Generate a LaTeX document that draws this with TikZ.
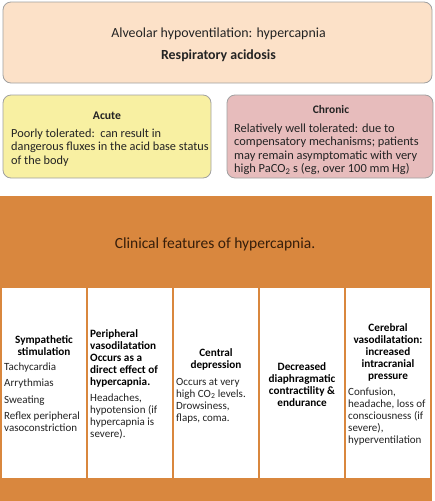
\documentclass[tikz,border=0pt]{standalone}
\usepackage{fontspec}
\setmainfont{Carlito}
\definecolor{peach}{RGB}{252,225,200}
\definecolor{paleyellow}{RGB}{248,240,162}
\definecolor{palepink}{RGB}{231,188,188}
\definecolor{orangefill}{RGB}{217,135,62}
\definecolor{boxline}{RGB}{160,160,160}
\definecolor{darktext}{RGB}{35,35,35}
\definecolor{headtext}{RGB}{55,30,10}
\begin{document}
\begin{tikzpicture}[x=1pt,y=-1pt,
  roundbox/.style={draw=boxline, line width=0.8pt, rounded corners=8pt, inner sep=0pt},
  plainbox/.style={inner sep=0pt, draw=none},
  coltext/.style={inner sep=0pt, text=darktext, font=\fontsize{11}{12}\selectfont},
  coltitle/.style={coltext, text=black, font=\fontsize{11.2}{12}\selectfont\bfseries},
  boxtext/.style={inner sep=0pt, text=darktext, font=\fontsize{12.3}{13.5}\selectfont},
  toptext/.style={inner sep=0pt, text=darktext, font=\fontsize{13.9}{16}\selectfont}
]
\useasboundingbox (0,0) rectangle (435,501);
% top box
\node[roundbox, fill=peach, minimum width=429, minimum height=81] (top) at (217.5,42.5) {};
\node[toptext, anchor=base] (toptitle) at (218.5,37) {Alveolar hypoventilation: hypercapnia};
\node[toptext, anchor=base, font=\fontsize{13.9}{16}\selectfont\bfseries] (topsub) at (218.5,59) {Respiratory acidosis};
% acute / chronic
\node[roundbox, fill=paleyellow, minimum width=208, minimum height=83] (acute) at (107,136.5) {};
\node[boxtext, anchor=base, font=\fontsize{11.7}{13.5}\selectfont\bfseries] (acutetitle) at (107,119) {Acute};
\node[boxtext, anchor=north west, align=left] (acutebody) at (11,127.5) {\strut Poorly tolerated:\ \ can result in\\dangerous fluxes in the acid base status\\of the body};
\node[roundbox, fill=palepink, minimum width=206, minimum height=83] (chronic) at (330,136.5) {};
\node[boxtext, anchor=base, font=\fontsize{11.5}{13.5}\selectfont\bfseries] (chronictitle) at (331,113) {Chronic};
\node[boxtext, anchor=north west, align=left, font=\fontsize{12.4}{13.5}\selectfont] (chronicbody) at (234,122.5) {\strut Relatively well tolerated: due to\\compensatory mechanisms; patients\\may remain asymptomatic with very\\high PaCO\textsubscript{2} s (eg, over 100 mm Hg)};
% orange panel
\node[plainbox, fill=orangefill, minimum width=432, minimum height=305] (panel) at (216,348.5) {};
\node[inner sep=0pt, anchor=base, text=headtext, font=\fontsize{15.5}{18}\selectfont] (paneltitle) at (215,248) {Clinical features of hypercapnia.};
% columns
\foreach \n/\cx in {1/44,2/130,3/216,4/302,5/388}{
  \node[plainbox, fill=white, minimum width=84, minimum height=190] (col\n) at (\cx,383) {};
}
\node[coltitle, anchor=north, align=center] (t1) at (44,334.6) {\strut Sympathetic\\stimulation};
\node[coltext, anchor=north west, align=left] (b1) at (4,361.6) {\strut Tachycardia\\[4.5pt]Arrythmias\\[4.5pt]Sweating\\[4.5pt]Reflex peripheral\\vasoconstriction};
\node[coltitle, anchor=north west, align=left] (t2) at (90,328.6) {\strut Peripheral\\vasodilatation\\Occurs as a\\direct effect of\\hypercapnia.};
\node[coltext, anchor=north west, align=left] (b2) at (90,392.6) {\strut Headaches,\\hypotension (if\\hypercapnia is\\severe).};
\node[coltitle, anchor=north, align=center] (t3) at (216,347.6) {\strut Central\\depression};
\node[coltext, anchor=north west, align=left] (b3) at (176,376.6) {\strut Occurs at very\\high CO\textsubscript{2} levels.\\Drowsiness,\\flaps, coma.};
\node[coltitle, anchor=north, align=center] (t4) at (302,361.6) {\strut Decreased\\diaphragmatic\\contractility \&\\endurance};
\node[coltitle, anchor=north, align=center] (t5) at (388,322.6) {\strut Cerebral\\vasodilatation:\\increased\\intracranial\\pressure};
\node[coltext, anchor=north west, align=left] (b5) at (348,386.6) {\strut Confusion,\\headache, loss of\\consciousness (if\\severe),\\hyperventilation};
\end{tikzpicture}
\end{document}
